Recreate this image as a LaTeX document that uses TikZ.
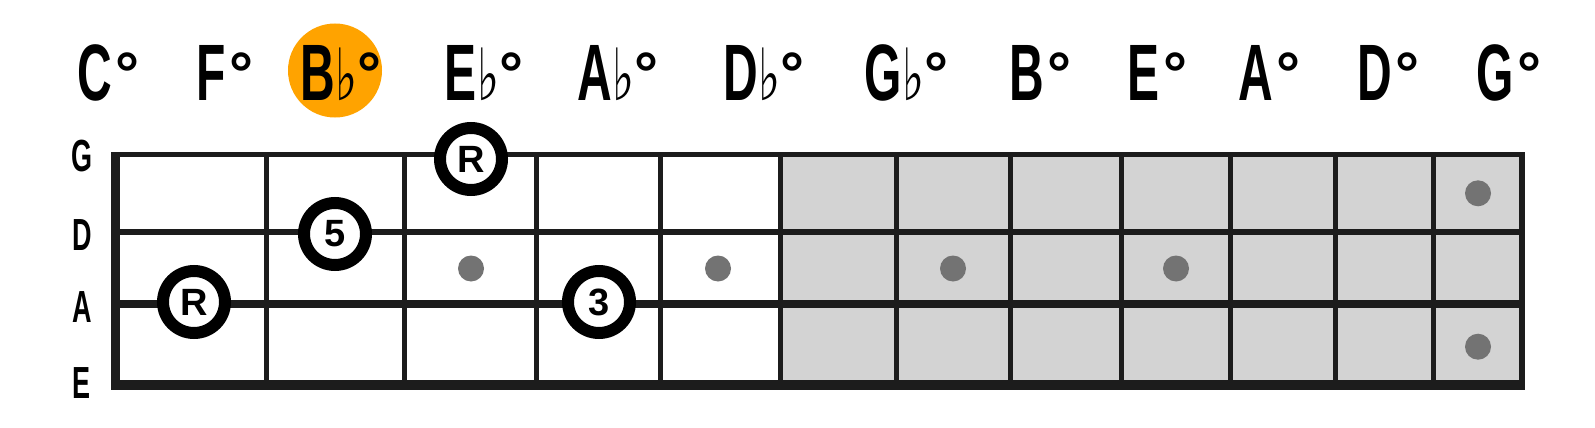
\documentclass[tikz,border=0pt]{standalone}
\usepackage{fontspec}
\usetikzlibrary{positioning}
\newfontfamily\chordfont[FakeStretch=0.6]{Liberation Sans}
\newfontfamily\ringfont{Liberation Sans}
\newfontfamily\flatfont[FakeStretch=0.65]{DejaVu Sans}
\definecolor{cLine}{RGB}{28,28,28}
\definecolor{cBoard}{RGB}{211,211,211}
\definecolor{cDot}{RGB}{115,115,115}
\definecolor{cKey}{RGB}{255,163,0}
\newcommand{\flatsign}{{\hspace{1pt}\flatfont\mdseries\fontsize{72}{72}\selectfont ♭}\hspace{-4pt}}
\newcommand{\degring}{\hspace{4pt}\raisebox{6pt}{\ringfont\bfseries\fontsize{60}{60}\selectfont °}}
\tikzset{
    chordlabel/.style={
        font=\chordfont\bfseries\fontsize{80}{80}\selectfont,
        inner sep=0pt, anchor=base west
    },
    stringlabel/.style={
        font=\chordfont\bfseries\fontsize{45}{45}\selectfont,
        inner sep=0pt, anchor=base
    },
    note/.style={
        circle, draw=black, fill=white, line width=12pt,
        minimum size=62pt, inner sep=0pt,
        font=\ringfont\bfseries\fontsize{38}{38}\selectfont
    },
    inlay/.style={circle, fill=cDot, minimum size=26pt, inner sep=0pt},
    keydisk/.style={circle, fill=cKey, minimum size=94pt, inner sep=0pt},
    fretline/.style={draw=cLine, line width=5pt},
}
\begin{document}
\begin{tikzpicture}[x=1pt, y=-1pt]
\useasboundingbox (0,0) rectangle (1595,428);

% ============================================================
%  Chord names along the top (the key chord sits on a disk)
% ============================================================
\node[keydisk] (key) at (335,70.5) {};

\node[chordlabel] (cC)  at (77,100)   {C\degring};
\node[chordlabel] (cF)  at (196,100)  {F\degring};
\node[chordlabel] (cBb) at (300,100)  {B\flatsign\degring};
\node[chordlabel] (cEb) at (444,100)  {E\flatsign\degring};
\node[chordlabel] (cAb) at (577,100)  {A\flatsign\degring};
\node[chordlabel] (cDb) at (723,100)  {D\flatsign\degring};
\node[chordlabel] (cGb) at (864,100)  {G\flatsign\degring};
\node[chordlabel] (cB)  at (1009,100) {B\degring};
\node[chordlabel] (cE)  at (1127,100) {E\degring};
\node[chordlabel] (cA)  at (1238,100) {A\degring};
\node[chordlabel] (cD)  at (1357,100) {D\degring};
\node[chordlabel] (cG)  at (1476,100) {G\degring};

% ============================================================
%  Fretboard: shaded upper part, frets, strings, nut
% ============================================================
\coordinate (shadeNW) at (780,154.5);
\coordinate (boardSE) at (1522,385);
\fill[cBoard] (shadeNW) rectangle (boardSE);

% frets
\draw[fretline] (266,154.5)  -- (266,385);
\draw[fretline] (404,154.5)  -- (404,385);
\draw[fretline] (536,154.5)  -- (536,385);
\draw[fretline] (660,154.5)  -- (660,385);
\draw[fretline] (780,154.5)  -- (780,385);
\draw[fretline] (896,154.5)  -- (896,385);
\draw[fretline] (1010,154.5) -- (1010,385);
\draw[fretline] (1121,154.5) -- (1121,385);
\draw[fretline] (1230,154.5) -- (1230,385);
\draw[fretline] (1335,154.5) -- (1335,385);
\draw[fretline] (1433,154.5) -- (1433,385);
\draw[fretline, line width=6pt] (1522,152) -- (1522,389.5);

% strings, thin to thick
\draw[cLine, line width=5pt]   (111,154.5) -- (1525,154.5);
\draw[cLine, line width=6pt]   (111,232)   -- (1525,232);
\draw[cLine, line width=8pt]   (111,304)   -- (1525,304);
\draw[cLine, line width=9.5pt] (111,385)   -- (1525,385);

% nut
\draw[cLine, line width=9pt] (115.5,152) -- (115.5,389.5);

% string names
\node[stringlabel] (sG) at (82,171) {G};
\node[stringlabel] (sD) at (82,250) {D};
\node[stringlabel] (sA) at (82,322) {A};
\node[stringlabel] (sE) at (82,398) {E};

% inlay dots
\node[inlay] (m3)  at (471,268.5)  {};
\node[inlay] (m5)  at (718,268.5)  {};
\node[inlay] (m7)  at (953,268.5)  {};
\node[inlay] (m9)  at (1176,268.5) {};
\node[inlay] (m12a) at (1478,193.3) {};
\node[inlay] (m12b) at (1478,346.7) {};

% chord tones
\node[note] (rootA) at (194,302) {R};
\node[note] (fifth) at (335,234) {5};
\node[note] (rootG) at (471,159) {R};
\node[note] (third) at (599,302) {3};

\end{tikzpicture}
\end{document}
